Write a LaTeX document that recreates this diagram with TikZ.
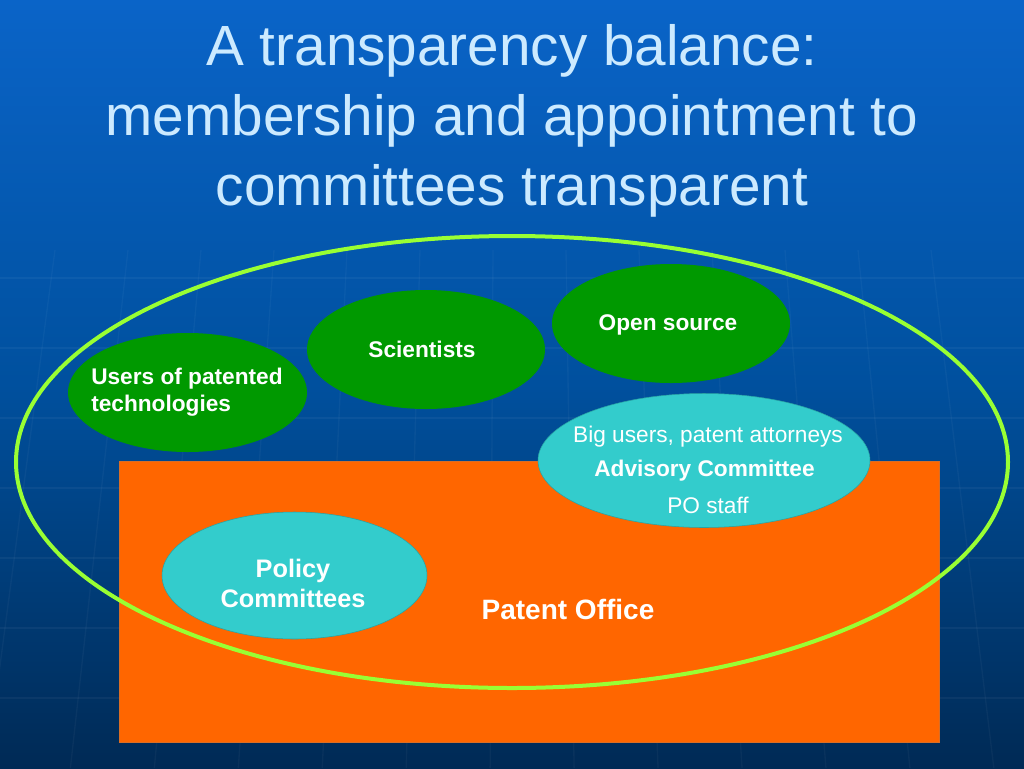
\documentclass[tikz,border=0pt]{standalone}
\usepackage{fontspec}
\setmainfont{Liberation Sans}
\usetikzlibrary{shapes.geometric}

\definecolor{slidetop}{HTML}{0A64C8}
\definecolor{slidemid}{HTML}{00509E}
\definecolor{slidebottom}{HTML}{002A55}
\definecolor{officeorange}{HTML}{FF6600}
\definecolor{groupgreen}{HTML}{009900}
\definecolor{boardcyan}{HTML}{33CCCC}
\definecolor{balancelime}{HTML}{99FF33}
\definecolor{titleblue}{HTML}{CCEAFF}

\tikzset{
  group/.style={ellipse, fill=groupgreen, inner sep=0pt},
  board/.style={ellipse, fill=boardcyan, draw=boardcyan!80!black, line width=0.4pt, inner sep=0pt},
  label text/.style={text=white, inner sep=0pt, font=\fontsize{17}{20.25}\selectfont\bfseries},
  plain text/.style={text=white, inner sep=0pt, font=\fontsize{17}{20.25}\selectfont},
}

\begin{document}
\begin{tikzpicture}[x=0.75pt,y=0.75pt,yscale=-1,xscale=1]
	\useasboundingbox (0,0) rectangle (1024,768);

	% Background
	\shade[top color=slidetop, bottom color=slidebottom, middle color=slidemid] (0,0) rectangle (1024,768);
	\foreach \gy in {278,348,...,698}
		\draw [white, opacity=0.045, line width=1.2pt] (0,\gy) -- (1024,\gy);
	\foreach \gx in {55,128,...,1000}
		\draw [white, opacity=0.035, line width=1pt] (\gx,250) -- ({512+(\gx-512)*1.15},768);

	% Title
	\node (title) [text=titleblue, inner sep=0pt, align=center, font=\fontsize{42.5}{52.5}\selectfont] at (512,121)
		{A transparency balance:\\membership and appointment to\\committees transparent};

	% Patent office
	\node (office) [fill=officeorange, draw=officeorange!70!gray, line width=0.4pt, minimum width=615pt, minimum height=210.75pt, inner sep=0pt] at (529,601.5) {};

	% Balance
	\node (balance) [ellipse, draw=balancelime, line width=3pt, minimum width=744pt, minimum height=339pt, inner sep=0pt] at (512,462) {};

	% Groups
	\node (users) [group, minimum width=179.25pt, minimum height=89.25pt] at (187.5,392.5) {};
	\node (sci) [group, minimum width=178.5pt, minimum height=89.25pt] at (426,349.5) {};
	\node (open) [group, minimum width=178.5pt, minimum height=89.25pt] at (671,323.5) {};

	% Committees
	\node (adv) [board, minimum width=249pt, minimum height=100.5pt] at (704,460.5) {};
	\node (policy) [board, minimum width=198.75pt, minimum height=95.25pt] at (294.5,575.5) {};

	% Text Node
	\node (userstext) [label text, align=left] at (187,392.5) {Users of patented\\technologies};
	\node (scitext) [label text, anchor=base] at (422,357) {Scientists};
	\node (opentext) [label text, anchor=base] at (668,330) {Open source};
	\node (advtop) [plain text, anchor=base] at (708,442) {Big users, patent attorneys};
	\node (advtext) [label text, anchor=base] at (704.5,476) {Advisory Committee};
	\node (advstaff) [plain text, anchor=base] at (708,513) {PO staff};
	\node (policytext) [label text, align=center, font=\fontsize{19}{22.5}\selectfont\bfseries] at (293,583) {Policy\\Committees};
	\node (officetext) [label text, anchor=base, font=\fontsize{21}{25}\selectfont\bfseries] at (568,619) {Patent Office};

\end{tikzpicture}
\end{document}
